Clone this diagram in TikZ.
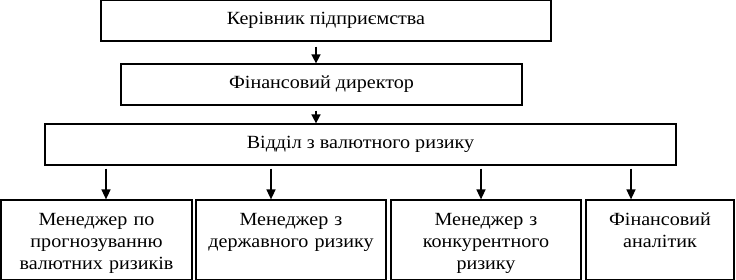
\documentclass[tikz,border=0pt]{standalone}
\usepackage{fontspec}
\setmainfont{Liberation Serif}
\newfontfamily\chartfont[FakeStretch=1.08]{Liberation Serif}
\usetikzlibrary{arrows.meta,positioning}

\begin{document}
\begin{tikzpicture}[
 x=1pt,y=1pt,
 level/.style={draw,line width=1.2pt,minimum height=41pt,inner sep=0pt,font=\chartfont\fontsize{18.6}{21.7}\selectfont},
 unit/.style={draw,line width=1.2pt,text width=#1,align=center,inner xsep=2pt,inner ysep=4pt,text height=22pt,text depth=50pt,font=\chartfont\fontsize{18.6}{21.7}\selectfont},
 arr/.style={-{Triangle[length=10pt,width=9pt]},line width=1.5pt,shorten <=3pt},
 tip/.style={-{Triangle[length=9pt,width=9pt]},line width=1.5pt,shorten <=5pt}
]
\useasboundingbox (0,0) rectangle (736,280);
\node[level,minimum width=450pt] (head) at (326,259.5) {Керівник підприємства};
\node[level,minimum width=401pt] (cfo) at (321.5,195.5) {Фінансовий директор};
\node[level,minimum width=631pt] (dept) at (360.5,135.5) {Відділ з валютного ризику};
\node[unit=187pt] (mgrfx) at (96.5,40) {Менеджер по\\прогнозуванню\\валютних ризиків};
\node[unit=186pt] (mgrstate) at (291,40) {Менеджер з\\державного ризику};
\node[unit=186pt] (mgrcomp) at (486,40) {Менеджер з\\конкурентного\\ризику};
\node[unit=144pt] (analyst) at (660,40) {Фінансовий\\аналітик};
\coordinate (spine) at (316,0);
\draw[tip] (head.south -| spine) -- (cfo.north -| spine);
\draw[tip] (cfo.south -| spine) -- (dept.north -| spine);
\foreach \n/\x in {mgrfx/106,mgrstate/271,mgrcomp/481,analyst/631}{
  \coordinate (drop) at (\x,0);
  \draw[arr] (dept.south -| drop) -- (\n.north -| drop);
}
\end{tikzpicture}
\end{document}
